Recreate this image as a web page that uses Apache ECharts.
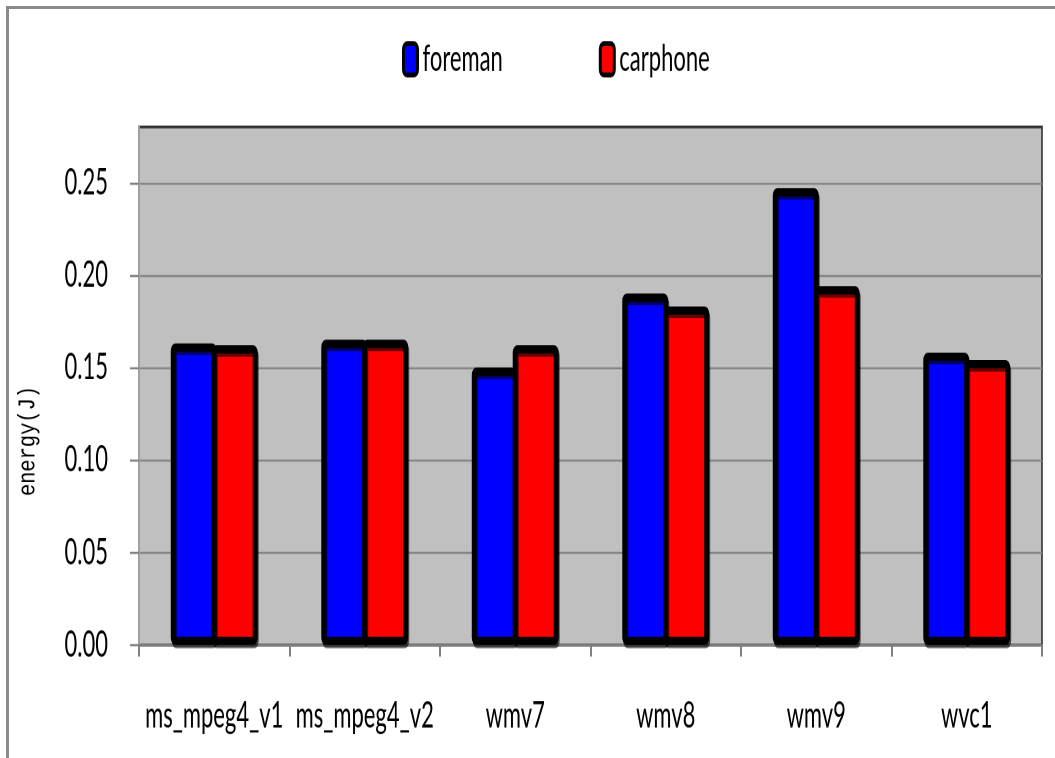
<!DOCTYPE html>
<html>
<head>
<meta charset="utf-8">
<script src="https://cdn.jsdelivr.net/npm/echarts@6/dist/echarts.min.js"></script>
<style>
  html, body { margin: 0; padding: 0; background: #fff; overflow: hidden; }
  #wrap { position: relative; width: 1055px; height: 758px; overflow: hidden; }
  /* the chart is laid out short and stretched vertically, giving tall narrow lettering */
  #chart { width: 1055px; height: 460px; transform-origin: 0 0; transform: scaleY(1.647826); }
  #frame {
    position: absolute; left: 6px; top: 6px; right: 0; bottom: 0;
    border-top: 3px solid #8a8a8a; border-left: 3px solid #8a8a8a;
    pointer-events: none;
  }
</style>
</head>
<body>
<div id="wrap">
  <div id="chart"></div>
  <div id="frame"></div>
</div>
<script>
// Encoder energy per codec for two test sequences
const codecs = ['ms_mpeg4_v1', 'ms_mpeg4_v2', 'wmv7', 'wmv8', 'wmv9', 'wvc1'];
const foreman = [0.163, 0.165, 0.150, 0.190, 0.247, 0.158];
const carphone = [0.162, 0.165, 0.162, 0.183, 0.194, 0.154];
const yTickValues = [0, 0.05, 0.10, 0.15, 0.20, 0.25];
const yMax = 0.28;
const yTitle = 'energy(J)';

const K = 758 / 460;            // vertical stretch applied by CSS
const FONT = 'Lato, "Liberation Sans", sans-serif';

function barStyle(color) {
  return {
    color: color,
    borderColor: '#000',
    borderWidth: 5,
    borderRadius: 2,
    shadowColor: 'rgba(0,0,0,0.6)',
    shadowOffsetY: 2,
    shadowOffsetX: 1,
    shadowBlur: 0
  };
}

const chart = echarts.init(document.getElementById('chart'), null, { renderer: 'canvas', devicePixelRatio: 2 });
chart.setOption({
  animation: false,
  backgroundColor: '#fff',
  legend: {
    top: 20,
    left: 397,
    itemWidth: 14,
    itemHeight: 19,
    itemGap: 96,
    textStyle: { fontFamily: FONT, fontSize: 22, color: '#000' },
    data: [
      { name: 'foreman', icon: 'roundRect', itemStyle: { color: '#0000ff', borderColor: '#000', borderWidth: 3 } },
      { name: 'carphone', icon: 'roundRect', itemStyle: { color: '#ff0000', borderColor: '#000', borderWidth: 3 } }
    ]
  },
  grid: {
    left: 139, right: 13, top: 127 / K, bottom: 113 / K,
    show: true,
    backgroundColor: '#c0c0c0',
    borderColor: '#333',
    borderWidth: 1.6
  },
  graphic: [{
    // rotated axis title, squeezed along its length to undo the page stretch
    type: 'text',
    x: 28, y: 441 / K,
    rotation: Math.PI / 2,
    scaleX: 0.85 / K,
    style: {
      text: yTitle,
      fontFamily: '"Liberation Mono", "DejaVu Sans Mono", monospace',
      fontSize: 24,
      fill: '#000',
      align: 'center',
      verticalAlign: 'middle'
    }
  }],
  xAxis: {
    type: 'category',
    data: codecs,
    boundaryGap: true,
    axisLine: { show: true, lineStyle: { color: '#808080', width: 1.3 } },
    axisTick: { show: true, length: 7, lineStyle: { color: '#808080', width: 2 } },
    axisLabel: { margin: 32, fontFamily: FONT, fontSize: 22, color: '#000', interval: 0 }
  },
  yAxis: {
    type: 'value',
    min: 0,
    max: yMax,
    interval: 0.05,
    axisLine: { show: true, lineStyle: { color: '#a0a0a0', width: 2 } },
    axisTick: { show: true, length: 9, customValues: yTickValues, lineStyle: { color: '#808080', width: 1.3 } },
    splitLine: { show: true, lineStyle: { color: '#858585', width: 1.2 } },
    axisLabel: {
      margin: 31,
      customValues: yTickValues,
      fontFamily: FONT, fontSize: 22, color: '#000',
      formatter: v => v.toFixed(2)
    }
  },
  series: [
    { name: 'foreman', type: 'bar', data: foreman, barWidth: 46, barGap: '-11%', itemStyle: barStyle('#0000ff') },
    { name: 'carphone', type: 'bar', data: carphone, barWidth: 46, barGap: '-11%', itemStyle: barStyle('#ff0000') }
  ]
});
</script>
</body>
</html>
